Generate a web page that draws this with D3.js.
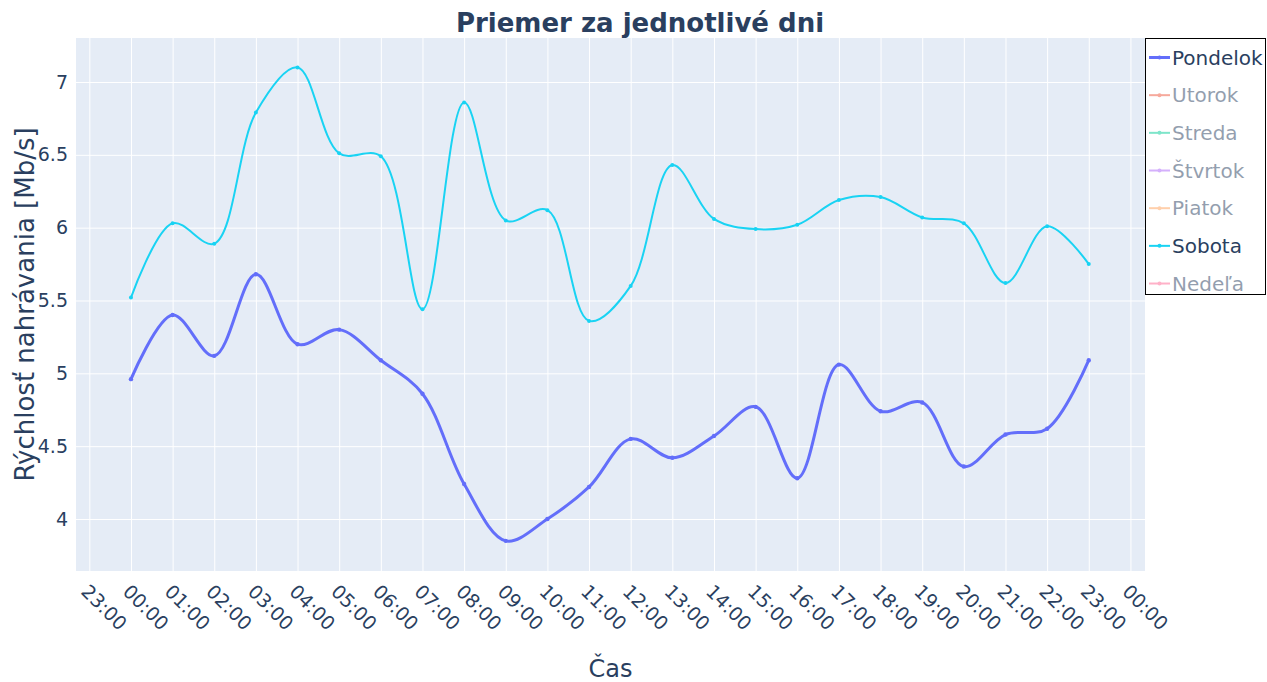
<!DOCTYPE html>
<html>
<head>
<meta charset="utf-8">
<script src="https://cdn.jsdelivr.net/npm/d3@7"></script>
<style>
    body { margin: 0; background: #fff; }
    text { font-family: "DejaVu Sans", sans-serif; fill: #2a3f5f; }
</style>
</head>
<body>
<svg id="chart"></svg>
<script>
// Data
let hours = d3.range(0, 24);
let days = ["Pondelok", "Utorok", "Streda", "Štvrtok", "Piatok", "Sobota", "Nedeľa"];
let dayColors = ["#636efa", "#EF553B", "#00cc96", "#ab63fa", "#FFA15A", "#19d3f3", "#FF6692"];
let visibleDays = ["Pondelok", "Sobota"];
let pondelok = [4.96, 5.40, 5.12, 5.68, 5.20, 5.30, 5.09, 4.86, 4.24, 3.85, 4.00, 4.22,
                4.55, 4.42, 4.57, 4.77, 4.28, 5.06, 4.74, 4.80, 4.36, 4.58, 4.62, 5.09];
let sobota = [5.52, 6.03, 5.89, 6.79, 7.10, 6.51, 6.49, 5.44, 6.86, 6.05, 6.12, 5.36,
              5.60, 6.43, 6.06, 5.99, 6.02, 6.19, 6.21, 6.07, 6.03, 5.62, 6.01, 5.75];
let yTicks = [4, 4.5, 5, 5.5, 6, 6.5, 7];
let seriesValues = { "Pondelok": pondelok, "Sobota": sobota };

let config = {
    svg: { width: 1267, height: 682 },
    plot: { x: 76, y: 38, width: 1069, height: 533 }
};

function translate(x, y) {
    return 'translate(' + x + ',' + y + ')';
}

let day0 = new Date(2021, 0, 4, 0, 0);
let hourDate = h => new Date(day0.getTime() + h * 3600000);

let svg = d3.select("#chart")
    .attr("width", config.svg.width)
    .attr("height", config.svg.height);

let scales = {};
scales.x = d3.scaleTime()
    .domain([hourDate(-1.32), hourDate(24.35)])
    .range([0, config.plot.width]);
scales.y = d3.scaleLinear()
    .domain([3.643, 7.302])
    .range([config.plot.height, 0]);

let plot = svg.append("g").attr("transform", translate(config.plot.x, config.plot.y));

plot.append("rect")
    .attr("width", config.plot.width)
    .attr("height", config.plot.height)
    .attr("fill", "#E5ECF6");

// gridlines
let xTickDates = d3.range(-1, 25).map(hourDate);
plot.append("g")
    .attr("class", "grid-x")
    .attr("transform", translate(0, config.plot.height))
    .call(d3.axisBottom(scales.x).tickValues(xTickDates).tickSize(-config.plot.height).tickFormat(""))
    .call(g => g.select(".domain").remove())
    .call(g => g.selectAll("line").attr("stroke", "#fff").attr("stroke-width", 1));
plot.append("g")
    .attr("class", "grid-y")
    .call(d3.axisLeft(scales.y).tickValues(yTicks).tickSize(-config.plot.width).tickFormat(""))
    .call(g => g.select(".domain").remove())
    .call(g => g.selectAll("line").attr("stroke", "#fff").attr("stroke-width", 1));

// y tick labels
plot.append("g")
    .call(d3.axisLeft(scales.y).tickValues(yTicks).tickSize(0).tickPadding(8).tickFormat(d3.format("")))
    .call(g => g.select(".domain").remove())
    .call(g => g.selectAll("text").style("font-size", "19px").attr("fill", "#2a3f5f"));

// x tick labels, rotated
let xAxisG = plot.append("g")
    .attr("transform", translate(0, config.plot.height))
    .call(d3.axisBottom(scales.x).tickValues(xTickDates).tickSize(0).tickFormat(d3.timeFormat("%H:%M")))
    .call(g => g.select(".domain").remove());
xAxisG.selectAll("text")
    .style("font-size", "19px")
    .attr("fill", "#2a3f5f")
    .attr("text-anchor", "start")
    .attr("y", 0)
    .attr("dy", "0.35em")
    .attr("transform", "translate(-5,17) rotate(45)");

// lines
let line = d3.line()
    .x((d, i) => scales.x(hourDate(hours[i])))
    .y(d => scales.y(d))
    .curve(d3.curveCatmullRom.alpha(0.5));

let linesG = plot.append("g").attr("class", "lines");
visibleDays.forEach(function(day) {
    let color = dayColors[days.indexOf(day)];
    let values = seriesValues[day];
    let w = day === "Pondelok" ? 3 : 2;
    linesG.append("path")
        .attr("d", line(values))
        .attr("fill", "none")
        .attr("stroke", color)
        .attr("stroke-width", w);
    linesG.selectAll(".pt-" + day)
        .data(values)
        .enter()
        .append("circle")
        .attr("cx", (d, i) => scales.x(hourDate(hours[i])))
        .attr("cy", d => scales.y(d))
        .attr("r", w === 3 ? 2.2 : 2)
        .attr("fill", color);
});

// title
svg.append("text")
    .attr("x", 640)
    .attr("y", 32)
    .attr("text-anchor", "middle")
    .style("font-size", "26px")
    .style("font-weight", "bold")
    .text("Priemer za jednotlivé dni");

// axis titles
svg.append("text")
    .attr("x", config.plot.x + config.plot.width / 2)
    .attr("y", 677)
    .attr("text-anchor", "middle")
    .style("font-size", "24px")
    .text("Čas");
svg.append("text")
    .attr("transform", translate(34, config.plot.y + config.plot.height / 2) + " rotate(-90)")
    .attr("text-anchor", "middle")
    .style("font-size", "26px")
    .text("Rýchlosť nahrávania [Mb/s]");

// legend
let legend = svg.append("g").attr("transform", translate(1145, 38));
legend.append("rect")
    .attr("x", 0.5)
    .attr("y", 0.5)
    .attr("width", 120)
    .attr("height", 256)
    .attr("fill", "#fff")
    .attr("stroke", "#000")
    .attr("stroke-width", 1);
days.forEach(function(day, i) {
    let on = visibleDays.includes(day);
    let item = legend.append("g")
        .attr("transform", translate(0, 19.5 + i * 37.67))
        .attr("opacity", on ? 1 : 0.5);
    item.append("line")
        .attr("x1", 4).attr("x2", 25)
        .attr("stroke", dayColors[i])
        .attr("stroke-width", day === "Pondelok" ? 3 : 2);
    item.append("circle")
        .attr("cx", 14.5).attr("r", 2)
        .attr("fill", dayColors[i]);
    item.append("text")
        .attr("x", 27)
        .attr("dy", "0.35em")
        .style("font-size", "20px")
        .text(day);
});
</script>
</body>
</html>
